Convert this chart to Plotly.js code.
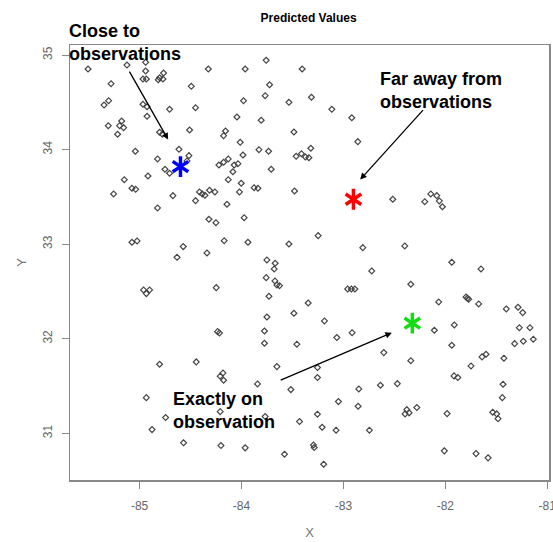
<!DOCTYPE html>
<html>
<head>
<meta charset="utf-8">
<script src="https://cdn.plot.ly/plotly-3.0.1.min.js"></script>
<style>html,body{margin:0;padding:0;background:#fff;}#chart{width:553px;height:542px;}</style>
</head>
<body>
<div id="chart"></div>
<script>
// Observation locations (longitude X, latitude Y)
const obsX = [
-85.506,-85.124,-84.941,-84.941,-84.967,-84.934,-84.817,-84.804,-84.765,-84.771,-84.326,-85.280,-84.493,-85.349,-85.304,-84.967,-84.927,-84.706,-84.451,-84.927,
-85.307,-85.176,-85.196,-85.157,-85.216,-84.804,-84.777,-84.510,-84.157,-84.176,-85.042,-84.614,-84.516,-84.824,-84.535,-84.751,-84.706,-84.222,-84.176,-84.130,
-85.150,-84.918,-84.130,-85.255,-85.075,-85.039,-84.673,-84.412,-84.385,-84.359,-84.314,-84.261,-84.451,-84.143,-84.824,-84.320,-84.251,-85.075,-85.025,-84.572,
-84.633,-84.339,-84.170,
-83.758,-83.964,-83.405,-83.725,-83.768,-83.980,-83.535,-83.314,-83.114,-82.918,-84.045,-83.807,-83.486,-84.013,-83.829,-83.735,-83.986,-83.320,-83.464,-83.412,
-83.373,-83.339,-82.859,-84.035,-84.072,-84.085,-83.709,-84.003,-84.020,-83.876,-83.839,-83.480,-83.974,-83.937,-83.535,-83.248,-82.810,-83.751,-83.670,
-82.516,-82.202,-82.143,-82.084,-82.059,-82.029,-82.398,-81.937,
-84.961,-84.902,-84.934,-84.248,-84.235,-84.216,-84.804,-84.444,-84.182,-84.209,-84.176,-84.934,-84.209,-84.745,-84.878,-84.569,-84.202,
-83.679,-83.758,-83.672,-83.653,-83.627,-82.722,-82.958,-82.922,-82.888,-83.731,-83.346,-83.751,-83.486,-83.186,-83.775,-83.775,-83.065,-82.915,-83.457,-82.604,
-83.653,-83.255,-83.255,-83.843,-83.516,-82.849,-82.637,-83.049,-82.856,-83.255,-83.431,-83.768,-83.209,-83.072,-82.745,-83.964,-83.578,-83.294,-83.287,-83.194,
-81.650,-82.339,-82.065,-81.797,-81.784,-81.771,-81.673,-81.402,-81.287,-81.241,-81.912,-82.108,-81.274,-81.170,-81.320,-81.235,-81.137,-81.937,-82.339,-81.640,
-81.601,-81.425,-81.748,-82.471,-81.915,-81.878,-81.434,-81.441,-82.378,-82.395,-82.356,-82.280,-81.983,-81.535,-81.496,-81.483,-82.010,-81.699,-81.581
];
const obsY = [
34.852,34.894,34.923,34.831,34.746,34.746,34.739,34.760,34.810,34.746,34.852,34.697,34.669,34.471,34.517,34.479,34.453,34.426,34.443,34.352,
34.253,34.302,34.253,34.232,34.162,34.183,34.162,34.207,34.197,34.147,33.982,34.003,33.936,33.901,33.880,33.792,33.750,33.837,33.866,33.901,
33.682,33.721,33.682,33.531,33.591,33.580,33.513,33.552,33.531,33.517,33.570,33.552,33.460,33.422,33.383,33.263,33.227,33.020,33.034,32.974,
32.861,32.907,33.037,
34.944,34.852,34.852,34.686,34.570,34.517,34.500,34.553,34.426,34.337,34.345,34.310,34.186,34.077,33.999,33.982,33.943,34.014,33.929,33.957,
33.922,33.914,34.084,33.851,33.837,33.766,33.792,33.644,33.552,33.597,33.591,33.562,33.280,33.020,33.002,33.090,32.963,32.833,32.798,
33.475,33.449,33.531,33.513,33.457,33.396,32.981,32.809,
32.516,32.516,32.477,32.540,32.075,32.061,31.730,31.755,31.638,31.604,31.561,31.377,31.229,31.166,31.039,30.899,30.870,
32.738,32.646,32.611,32.569,32.561,32.717,32.526,32.526,32.526,32.449,32.378,32.230,32.269,32.188,32.082,31.952,32.012,32.064,31.942,31.853,
31.705,31.695,31.589,31.522,31.462,31.469,31.508,31.335,31.286,31.202,31.124,31.177,31.064,31.033,31.033,30.846,30.779,30.877,30.849,30.673,
32.738,32.576,32.389,32.442,32.428,32.418,32.368,32.315,32.333,32.276,32.146,32.090,32.117,32.117,31.948,31.973,31.995,31.931,31.768,31.808,
31.836,31.794,31.712,31.525,31.607,31.589,31.519,31.377,31.250,31.205,31.216,31.272,31.208,31.223,31.205,31.155,30.814,30.785,30.740
];

// Prediction locations (stars)
const predX = [-84.599, -82.902, -82.324];
const predY = [33.820, 33.475, 32.164];
const predColors = ['#0000ff', '#ff0000', '#11dd11'];

// Callout labels (paper position of left edge / vertical middle) and arrows (data coords)
const labelText = ['Close to<br>observations', 'Far away from<br>observations', 'Exactly on<br>observation'];
const labelX = [-0.0073, 0.643, 0.2109];
const labelY = [1.0057, 0.8959, 0.1609];
const arrowHeadX = [-84.720, -82.836, -82.525];
const arrowHeadY = [34.106, 33.683, 32.063];
const arrowTailX = [-85.108, -82.206, -83.630];
const arrowTailY = [34.840, 34.433, 31.556];

const xTicks = [-85, -84, -83, -82, -81];
const yTicks = [31, 32, 33, 34, 35];

const traces = [
  {
    type: 'scatter', mode: 'markers', x: obsX, y: obsY,
    marker: {symbol: 'diamond-open', size: 4.5, color: '#444444', line: {width: 1.2, color: '#444444'}},
    hoverinfo: 'x+y', showlegend: false
  },
  {
    type: 'scatter', mode: 'markers', x: predX, y: predY,
    marker: {symbol: 'y-up', size: 13, color: predColors, line: {width: 3.5, color: predColors}},
    showlegend: false, cliponaxis: false
  },
  {
    type: 'scatter', mode: 'markers', x: predX, y: predY,
    marker: {symbol: 'y-down', size: 13, color: predColors, line: {width: 3.5, color: predColors}},
    showlegend: false, cliponaxis: false
  }
];

const annotations = [];
for (let i = 0; i < labelText.length; i++) {
  annotations.push({
    xref: 'paper', yref: 'paper', x: labelX[i], y: labelY[i],
    text: '<b>' + labelText[i].split('<br>').join('</b><br><b>') + '</b>',
    showarrow: false, xanchor: 'left', yanchor: 'middle', align: 'left',
    font: {family: 'Liberation Sans, Arial, sans-serif', size: 18, color: '#000'}
  });
  annotations.push({
    xref: 'x', yref: 'y', axref: 'x', ayref: 'y',
    x: arrowHeadX[i], y: arrowHeadY[i], ax: arrowTailX[i], ay: arrowTailY[i],
    text: '', showarrow: true, arrowhead: 2, arrowsize: 1, arrowwidth: 1.3, arrowcolor: '#000'
  });
}

const tickFont = {family: 'Liberation Sans Narrow, Arial Narrow, Liberation Sans, Arial, sans-serif', size: 12, color: '#666666'};

const layout = {
  width: 553, height: 542,
  margin: {l: 70, r: 4, t: 45, b: 62},
  paper_bgcolor: '#ffffff', plot_bgcolor: '#ffffff',
  title: {text: '<b>Predicted Values</b>', x: 0.558, xanchor: 'center', y: 0.968, yanchor: 'middle',
          font: {family: 'Liberation Sans Narrow, Arial Narrow, Liberation Sans, Arial, sans-serif', size: 12, color: '#000'}},
  xaxis: {
    range: [-85.683, -80.983], tickvals: xTicks, ticktext: xTicks.map(String),
    showgrid: false, zeroline: false, showline: true, mirror: true, linecolor: '#888888', linewidth: 1.5,
    ticks: 'outside', ticklen: 7, tickcolor: '#888888', tickwidth: 1, tickfont: tickFont, ticklabelstandoff: 7,
    ticklabeloverflow: 'allow',
    title: {text: 'X', standoff: 16, font: {family: 'Liberation Sans, Arial, sans-serif', size: 13, color: '#777777'}},
    automargin: false
  },
  yaxis: {
    range: [30.506, 35.106], tickvals: yTicks, ticktext: yTicks.map(String), tickangle: -90,
    showgrid: false, zeroline: false, showline: true, mirror: true, linecolor: '#888888', linewidth: 1.5,
    ticks: 'outside', ticklen: 7, tickcolor: '#888888', tickwidth: 1, tickfont: tickFont, ticklabelstandoff: 5,
    title: {text: 'Y', standoff: 11, font: {family: 'Liberation Sans, Arial, sans-serif', size: 13, color: '#777777'}},
    automargin: false
  },
  annotations: annotations,
  showlegend: false
};

Plotly.newPlot('chart', traces, layout, {displayModeBar: false, staticPlot: true});
</script>
</body>
</html>
